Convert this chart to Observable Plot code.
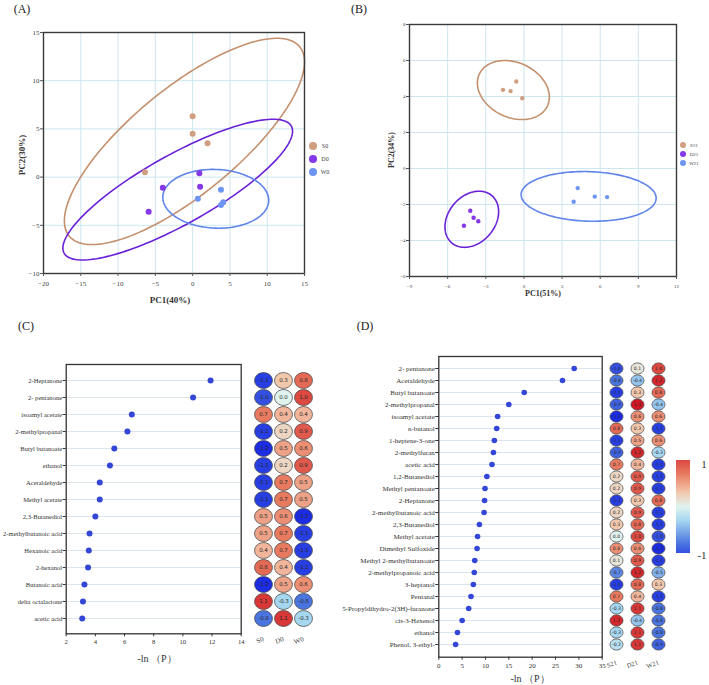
<!DOCTYPE html>
<html><head><meta charset="utf-8">
<script src="https://cdn.jsdelivr.net/npm/d3@7"></script>
<script src="https://cdn.jsdelivr.net/npm/@observablehq/plot@0.6"></script>
<style>
body{margin:0;background:#fff;}
#root{position:relative;width:709px;height:685px;overflow:hidden;font-family:"Liberation Serif","DejaVu Serif",serif;color:#222;background:#fff;}
#root svg{position:absolute;overflow:visible;}
</style></head><body><div id="root"></div>
<script>
// ---------- Panel A data (PCA day 0) ----------
const groupsA = ["S0", "D0", "W0"];
const dotColorsA = ["#d09e80", "#8438e6", "#6f95f2"];
const lineColorsA = ["#c4906e", "#6a22d8", "#5f84ea"];
const groupA = ["S0","S0","S0","S0","D0","D0","D0","D0","W0","W0","W0","W0"];
const pc1A = [0.0, 0.0, 2.0, -6.4, 0.9, -4.0, 1.0, -5.9, 3.8, 0.7, 4.1, 3.8];
const pc2A = [6.3, 4.5, 3.5, 0.5, 0.4, -1.1, -1.0, -3.6, -1.3, -2.25, -2.6, -2.9];
const ellCxA = [-1.1, -2.0, 3.1];
const ellCyA = [3.7, -1.3, -2.25];
const ellRxA = [16.1, 15.4, 7.1];
const ellRyA = [10.7, 7.3, 3.05];
const ellRhoA = [0.77, 0.83, -0.05];
const xTicksA = [-20, -15, -10, -5, 0, 5, 10, 15];
const yTicksA = [-10, -5, 0, 5, 10, 15];

// ---------- Panel B data (PCA day 21) ----------
const groupsB = ["S21", "D21", "W21"];
const groupB = ["S21","S21","S21","S21","D21","D21","D21","D21","W21","W21","W21","W21"];
const pc1B = [-1.65, -1.05, -0.6, -0.13, -4.22, -3.96, -3.59, -4.72, 4.23, 5.57, 6.54, 3.91];
const pc2B = [4.37, 4.3, 4.83, 3.9, -2.35, -2.74, -2.93, -3.18, -1.09, -1.56, -1.59, -1.85];
const ellCxB = [-0.83, -4.1, 5.09];
const ellCyB = [4.36, -2.82, -1.55];
const ellRxB = [2.83, 2.11, 5.31];
const ellRyB = [1.64, 1.56, 1.38];
const ellRhoB = [-0.24, 0.27, -0.07];
const xTicksB = [-9, -6, -3, 0, 3, 6, 9, 12];
const yTicksB = [-6, -4, -2, 0, 2, 4, 6, 8];

// ---------- Panel C data ----------
const compC = ["2-Heptanone", "2- pentanone", "isoamyl acetate", "2-methylpropanal", "Butyl butanoate", "ethanol", "Acetaldehyde", "Methyl acetate", "2,3-Butanediol", "2-methylbutanoic acid", "Hexanoic acid", "2-hexanol", "Butanoic acid", "delta octalactone", "acetic acid"];
const lnPC = [11.9, 10.7, 6.5, 6.2, 5.3, 5.0, 4.3, 4.3, 4.0, 3.6, 3.55, 3.5, 3.25, 3.15, 3.1];
const colsC = ["S0", "D0", "W0"];
const S0 = [-1.1, -1.0, 0.7, -1.1, -1.2, -1.1, -1.1, -1.1, 0.5, 0.5, 0.4, 0.8, -1.2, 1.1, -0.8];
const D0 = [0.3, 0.0, 0.4, 0.2, 0.5, 0.2, 0.7, 0.7, 0.6, 0.7, 0.7, 0.4, 0.5, -0.3, 1.1];
const W0 = [0.8, 1.0, 0.4, 0.9, 0.6, 0.9, 0.5, 0.5, -1.2, -1.1, -1.1, -1.1, 0.6, -0.8, -0.3];
const xTicksC = [2, 4, 6, 8, 10, 12, 14];

// ---------- Panel D data ----------
const compD = ["2- pentanone", "Acetaldehyde", "Butyl butanoate", "2-methylpropanal", "isoamyl acetate", "n-butanol", "1-heptene-3-one", "2-methylfuran", "acetic acid", "1,2-Butanediol", "Methyl pentanoate", "2-Heptanone", "2-methylbutanoic acid", "2,3-Butanediol", "Methyl acetate", "Dimethyl Sulfoxide", "Methyl 2-methylbutanoate", "2-methylpropanoic acid", "3-heptanol", "Pentanal", "5-Propyldihydro-2(3H)-furanone", "cis-3-Hexenol", "ethanol", "Phenol, 3-ethyl-"];
const lnPD = [29.0, 26.5, 18.3, 15.0, 12.6, 12.4, 11.9, 11.7, 11.4, 10.3, 9.9, 9.8, 9.7, 8.7, 8.3, 8.2, 7.7, 7.6, 7.4, 6.9, 6.4, 5.0, 4.0, 3.6];
const colsD = ["S21", "D21", "W21"];
const S21 = [-1.0, -0.8, -1.1, -0.9, -1.2, 0.8, -1.1, -0.9, 0.7, 0.2, 0.2, -1.1, 0.2, 0.3, 0.0, 0.6, 0.1, -0.7, -1.1, 0.7, -0.3, 1.2, -0.3, -0.2];
const D21 = [0.1, -0.4, 0.3, 1.3, 0.6, 0.3, 0.5, 1.2, 0.4, 0.9, 0.9, 0.3, 0.9, 0.8, 1.0, 0.6, 0.9, 1.2, 0.8, 0.4, 1.1, -0.4, 1.1, 1.1];
const W21 = [1.0, 1.2, 0.8, -0.4, 0.6, -1.1, 0.6, -0.3, -1.1, -1.1, -1.1, 0.8, -1.1, -1.1, -1.0, -1.2, -1.1, -0.5, 0.3, -1.1, -0.8, -0.8, -0.8, -0.9];
const xTicksD = [0, 5, 10, 15, 20, 25, 30, 35];

// ---------- heat colours ----------
const heatDomain = [-1.2, -0.8, -0.3, 0, 0.3, 0.7, 1.2];
const heatRange = ["#1c2ce2", "#4a74e0", "#a6d7f0", "#e0f3ef", "#f2c8ad", "#e87a60", "#d3282d"];

// ---------- helpers ----------
const root = document.getElementById("root");
const FONT = "Liberation Serif, DejaVu Serif, serif";
function put(svg, left, top) { svg.style.left = left + "px"; svg.style.top = top + "px"; root.appendChild(svg); return svg; }
function txt(text, cx, cy, css, rot) {
  const d = document.createElement("div");
  d.textContent = text;
  d.style.cssText = `position:absolute;left:${cx}px;top:${cy}px;transform:translate(-50%,-50%)${rot ? ` rotate(${rot}deg)` : ""};white-space:nowrap;line-height:1;${css || ""}`;
  root.appendChild(d); return d;
}
function ellipseRows(groups, cx, cy, rx, ry, rho) {
  const out = [];
  groups.forEach((g, i) => {
    const s = Math.sqrt(1 - rho[i] * rho[i]);
    for (let k = 0; k <= 160; k++) {
      const t = 2 * Math.PI * k / 160;
      out.push({ group: g, x: cx[i] + rx[i] * Math.cos(t), y: cy[i] + ry[i] * (rho[i] * Math.cos(t) + s * Math.sin(t)) });
    }
  });
  return out;
}
function ellipseSymbol(ratio) {
  return {
    draw(ctx, size) {
      const r = Math.sqrt(size / Math.PI), a = r * ratio, b = r / ratio, k = 0.5523;
      ctx.moveTo(a, 0);
      ctx.bezierCurveTo(a, k * b, k * a, b, 0, b);
      ctx.bezierCurveTo(-k * a, b, -a, k * b, -a, 0);
      ctx.bezierCurveTo(-a, -k * b, -k * a, -b, 0, -b);
      ctx.bezierCurveTo(k * a, -b, a, -k * b, a, 0);
      ctx.closePath();
    }
  };
}
function pcaPlot(o) {
  const pts = o.g.map((g, i) => ({ group: g, x: o.px[i], y: o.py[i] }));
  const ells = ellipseRows(o.groups, o.cx, o.cy, o.rx, o.ry, o.rho);
  return Plot.plot({
    width: o.w, height: o.h, marginLeft: o.ml, marginRight: o.mr, marginTop: o.mt, marginBottom: o.mb,
    x: { domain: o.xd }, y: { domain: o.yd },
    style: { fontFamily: FONT, fontSize: o.fs + "px", color: "#444", background: "transparent", overflow: "visible" },
    marks: [
      Plot.gridX(o.xt, { stroke: "#cde6ef", strokeOpacity: 1 }),
      Plot.gridY(o.yt, { stroke: "#cde6ef", strokeOpacity: 1 }),
      Plot.line(ells, { x: "x", y: "y", z: "group", stroke: d => o.lineColors[o.groups.indexOf(d.group)], strokeWidth: o.sw }),
      Plot.dot(pts, { x: "x", y: "y", fill: d => o.dotColors[o.groups.indexOf(d.group)], r: o.r }),
      Plot.frame({ stroke: "#3a3a3a", strokeWidth: 1.4 }),
      Plot.axisX(o.xt, { tickSize: 3, tickPadding: o.tp, label: null, stroke: "#555" }),
      Plot.axisY(o.yt, { tickSize: 3, tickPadding: 1, label: null, stroke: "#555" })
    ]
  });
}
function lolliPlot(o) {
  const rows = o.names.map((n, i) => ({ name: n, v: o.vals[i] }));
  return Plot.plot({
    width: o.w, height: o.h, marginLeft: o.ml, marginRight: o.mr, marginTop: o.mt, marginBottom: o.mb,
    x: { domain: o.xd }, y: { type: "point", domain: o.names, padding: 0.5 },
    style: { fontFamily: FONT, fontSize: o.fs + "px", color: "#333", background: "transparent", overflow: "visible" },
    marks: [
      Plot.ruleY(o.names, { stroke: "#dce5ee", strokeWidth: 1.2 }),
      Plot.dot(rows, { x: "v", y: "name", fill: "#3446d6", r: o.r }),
      Plot.frame({ stroke: "#333", strokeWidth: 1.3 }),
      Plot.axisX(o.xt, { tickSize: 3, tickPadding: 3, label: null }),
      Plot.axisY({ tickSize: 3, tickPadding: 1, label: null })
    ]
  });
}
function heatPlot(o) {
  const cells = [];
  o.names.forEach((n, i) => o.cols.forEach((c, j) => cells.push({ name: n, col: c, v: o.vals[j][i] })));
  return Plot.plot({
    width: o.w, height: o.h, marginLeft: o.ml, marginRight: o.mr, marginTop: o.mt, marginBottom: o.mb,
    x: { type: "point", domain: o.cols, padding: 0 }, y: { type: "point", domain: o.names, padding: 0.5, axis: null },
    color: { type: "linear", domain: heatDomain, range: heatRange },
    style: { fontFamily: FONT, fontSize: o.fs + "px", color: "#444", background: "transparent", overflow: "visible" },
    marks: [
      Plot.dot(cells, { x: "col", y: "name", fill: "v", r: o.r, symbol: ellipseSymbol(o.ratio), stroke: "#4d4d4d", strokeWidth: 0.8 }),
      Plot.text(cells, { x: "col", y: "name", text: d => d.v.toFixed(1), fontSize: o.tfs, fill: "#2a2a2a", fontFamily: "DejaVu Sans, sans-serif" }),
      Plot.axisX({ tickSize: 0, tickPadding: o.tp, label: null, tickRotate: -20 })
    ]
  });
}

// ---------- Panel A ----------
put(pcaPlot({
  w: 340, h: 310, ml: 43, mr: 36, mt: 32, mb: 37, xd: [-20, 15], yd: [-10, 15], xt: xTicksA, yt: yTicksA,
  g: groupA, px: pc1A, py: pc2A, groups: groupsA, cx: ellCxA, cy: ellCyA, rx: ellRxA, ry: ellRyA, rho: ellRhoA,
  dotColors: dotColorsA, lineColors: lineColorsA, fs: 7, r: 3, sw: 1.6, tp: 5
}), 0, 0);
txt("(A)", 22, 9, "font-size:12px;");
txt("PC1(40%)", 170, 300, "font-size:9px;font-weight:bold;color:#333;");
txt("PC2(30%)", 22, 155, "font-size:9px;font-weight:bold;color:#333;", -90);
groupsA.forEach((g, i) => {
  const y = [146, 159.3, 172][i];
  const c = document.createElement("div");
  c.style.cssText = `position:absolute;left:${312.5 - 4}px;top:${y - 4}px;width:8px;height:8px;border-radius:50%;background:${dotColorsA[i]};`;
  root.appendChild(c);
  txt(g, 325, y, "font-size:6px;color:#444;");
});

// ---------- Panel B ----------
put(pcaPlot({
  w: 359, h: 310, ml: 59, mr: 33, mt: 24, mb: 34, xd: [-9, 12], yd: [-6, 8], xt: xTicksB, yt: yTicksB,
  g: groupB, px: pc1B, py: pc2B, groups: groupsB, cx: ellCxB, cy: ellCyB, rx: ellRxB, ry: ellRyB, rho: ellRhoB,
  dotColors: dotColorsA, lineColors: lineColorsA, fs: 5, r: 2.2, sw: 1.6, tp: 5
}), 350, 0);
txt("(B)", 359, 9, "font-size:12px;");
txt("PC1(51%)", 543, 294, "font-size:8px;font-weight:bold;color:#333;");
txt("PC2(34%)", 392, 150, "font-size:8px;font-weight:bold;color:#333;", -90);
groupsB.forEach((g, i) => {
  const y = [145.3, 154, 162.7][i];
  const c = document.createElement("div");
  c.style.cssText = `position:absolute;left:${683.3 - 3.2}px;top:${y - 3.2}px;width:6.4px;height:6.4px;border-radius:50%;background:${dotColorsA[i]};`;
  root.appendChild(c);
  txt(g, 694, y, "font-size:5px;color:#444;");
});

// ---------- Panel C ----------
put(lolliPlot({
  w: 245, h: 325, ml: 65.7, mr: 4.3, mt: 24, mb: 31.7, xd: [2, 14], xt: xTicksC,
  names: compC, vals: lnPC, fs: 6.6, r: 3
}), 0, 340);
put(heatPlot({
  w: 90, h: 325, ml: 23.3, mr: 26.7, mt: 24, mb: 31.7, cols: colsC, names: compC, vals: [S0, D0, W0],
  r: 8.4, ratio: 1.06, fs: 7, tfs: 5.5, tp: 5
}), 240, 340);
txt("(C)", 26, 326, "font-size:12px;");
txt("-ln （P）", 157, 659, "font-size:10px;color:#333;");

// ---------- Panel D ----------
put(lolliPlot({
  w: 280, h: 345, ml: 108.3, mr: 8.3, mt: 16, mb: 28.3, xd: [0, 35], xt: xTicksD,
  names: compD, vals: lnPD, fs: 7, r: 2.8
}), 330, 340);
const hmD = put(heatPlot({
  w: 75, h: 345, ml: 15.7, mr: 16, mt: 16, mb: 28.3, cols: colsD, names: compD, vals: [S21, D21, W21],
  r: 6, ratio: 1.08, fs: 6.5, tfs: 4.6, tp: 5
}), 600, 340);
txt("(D)", 365, 326, "font-size:12px;");
txt("-ln （P）", 530, 679, "font-size:10px;color:#333;");

// ---------- colour bar ----------
const cs = hmD.scale("color");
const stops = d3.range(0, 21).map(i => { const v = 1 - i / 10; return `${cs.apply(v)} ${(i / 20 * 100).toFixed(1)}%`; });
const bar = document.createElement("div");
bar.style.cssText = `position:absolute;left:676px;top:460px;width:14px;height:93px;background:linear-gradient(to bottom, ${stops.join(",")});`;
root.appendChild(bar);
txt("1", 704, 464, "font-size:11px;color:#333;");
txt("-1", 702, 555, "font-size:11px;color:#333;");
</script>
</body></html>
